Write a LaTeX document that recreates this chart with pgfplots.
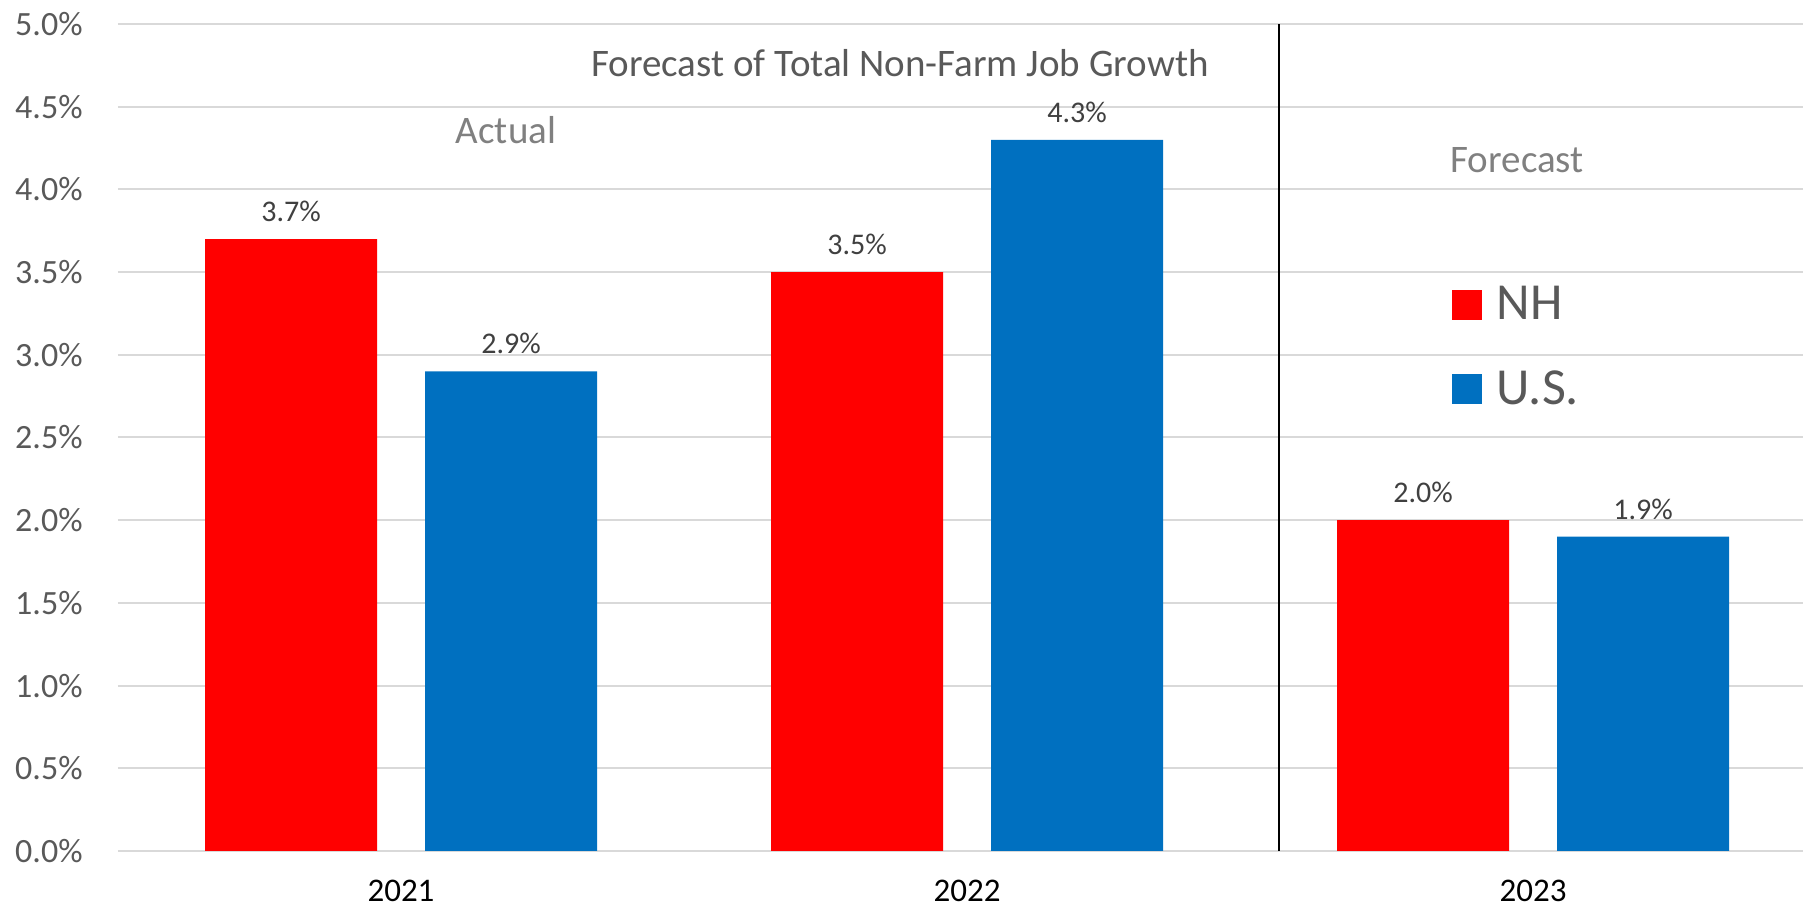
\documentclass[border=0pt]{standalone}
\usepackage{fontspec}
\setmainfont{Carlito}
\usepackage{pgfplots}
\pgfplotsset{compat=1.18}
\definecolor{nhred}{HTML}{FF0000}
\definecolor{usblue}{HTML}{0070C0}
\definecolor{gridc}{HTML}{D9D9D9}
\definecolor{tickgray}{HTML}{595959}
\definecolor{lblgray}{HTML}{404040}
\definecolor{notegray}{HTML}{808080}
\begin{document}
\begin{tikzpicture}
\begin{axis}[
  name=ax,
  scale only axis, width=842.5pt, height=413.5pt,
  xmin=-0.5, xmax=2.477, ymin=0, ymax=5,
  ybar=24pt, bar width=86pt,
  axis line style={draw=none},
  ymajorgrids, grid style={gridc, line width=1pt},
  major tick length=0pt,
  xtick={0,1,2}, xticklabels={2021,2022,2023},
  ytick={0,0.5,1,1.5,2,2.5,3,3.5,4,4.5,5},
  /pgf/number format/assume math mode=true,
  yticklabel={\pgfmathprintnumber[fixed,fixed zerofill,precision=1]{\tick}\%},
  yticklabel style={anchor=east, inner sep=0pt, xshift=-17.5pt, text=tickgray, font=\fontsize{17}{20}\selectfont},
  xticklabel style={anchor=north, inner sep=0pt, yshift=-14.5pt, text=black, font=\fontsize{16.5}{20}\selectfont},
  nodes near coords={\pgfmathprintnumber[fixed,fixed zerofill,precision=1]{\pgfplotspointmeta}\%},
  every node near coord/.append style={anchor=south, inner sep=0pt, yshift=8.5pt, text=lblgray, font=\fontsize{15}{18}\selectfont},
  legend image code/.code={\fill[#1,draw=none] (0pt,-7.5pt) rectangle (15pt,7.5pt);},
  legend cell align=left,
  legend style={at={(axis description cs:0.7917,0.683)}, anchor=north west, draw=none, fill=none, inner sep=0pt, row sep=24pt,
    nodes={inner sep=0pt, text=tickgray, font=\fontsize{26}{31}\selectfont}},
]
\addplot[fill=nhred, draw=none] coordinates {(0,3.7) (1,3.5) (2,2.0)};
\addplot[fill=usblue, draw=none] coordinates {(0,2.9) (1,4.3) (2,1.9)};
\legend{\hspace{7pt}NH, \hspace{7pt}U.S.}
\draw[black, line width=0.75pt] (axis cs:1.551,0) -- (axis cs:1.551,5);
\node[anchor=base, inner sep=0pt, text=tickgray, font=\fontsize{19.5}{24}\selectfont] at (axis cs:0.8816,4.68) {Forecast of Total Non-Farm Job Growth};
\node[anchor=base, inner sep=0pt, text=notegray, font=\fontsize{19.5}{24}\selectfont] at (axis cs:0.1855,4.28) {Actual};
\node[anchor=base, inner sep=0pt, text=notegray, font=\fontsize{19.5}{24}\selectfont] at (axis cs:1.972,4.105) {Forecast};
\end{axis}
\pgfresetboundingbox
\useasboundingbox ([shift={(-59pt,-29pt)}]ax.south west) rectangle ([shift={(0pt,12pt)}]ax.north east);
\end{tikzpicture}
\end{document}
